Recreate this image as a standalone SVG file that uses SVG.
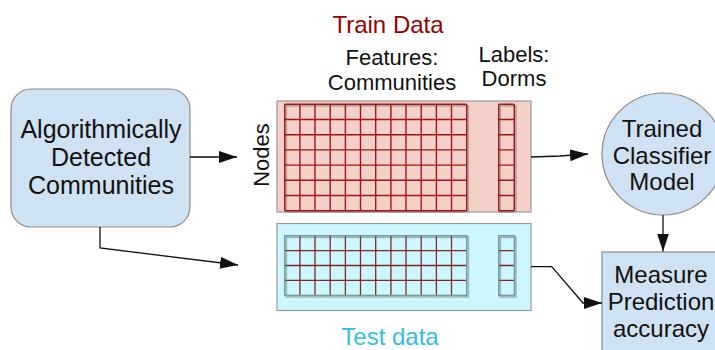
<svg xmlns="http://www.w3.org/2000/svg" width="715" height="350" viewBox="0 0 715 350">
<style>
text{font-family:"Liberation Sans",Arial,sans-serif;fill:#111;text-anchor:middle}
.node{fill:#cfe2f3;stroke:#8a8a8a;stroke-width:1.2}
.t24{font-size:24px}
.t25{font-size:25px}
.t22{font-size:22px}
.conn{fill:none;stroke:#111;stroke-width:1.3}
.tgrid{fill:none;stroke:#a31515;stroke-width:1.4}
.sgrid{fill:none;stroke:#7d2a2a;stroke-width:1.3}
.shadow{fill:none;stroke:#8c8c8c;stroke-width:2;opacity:0.6}
</style>
<defs>
<marker id="ah" viewBox="0 0 18 12" refX="18" refY="6" markerWidth="18" markerHeight="12" markerUnits="userSpaceOnUse" orient="auto">
<path d="M0,0 L18,6 L0,12 Z" fill="#111"/>
</marker>
</defs>

<g id="title-train"><text x="388" y="33" style="font-size:24px;fill:#960000">Train Data</text></g>
<g id="label-features"><text class="t22" x="392" y="65">Features:</text><text class="t22" x="392" y="90">Communities</text></g>
<g id="label-labels"><text class="t22" x="514" y="62">Labels:</text><text class="t22" x="514" y="86">Dorms</text></g>
<g id="label-nodes"><text x="0" y="0" transform="translate(268.5,155) rotate(-90)" style="font-size:22px">Nodes</text></g>
<g id="title-test"><text x="390" y="345" style="font-size:24px;fill:#36bde0">Test data</text></g>

<g id="communities">
<rect class="node" x="11" y="89" width="179" height="138" rx="20"/>
<text class="t25" x="101" y="138">Algorithmically</text>
<text class="t25" x="101" y="166">Detected</text>
<text class="t25" x="101" y="194">Communities</text>
</g>

<g id="train-data">
<rect x="277" y="101" width="254" height="111" fill="#f5d0c8" stroke="#999" stroke-width="1.2"/>
<rect class="shadow" x="286.2" y="105.8" width="182" height="106"/>
<rect class="shadow" x="500.2" y="105.8" width="15.6" height="106"/>
<path class="tgrid" d="M284.7,104.3V210.7M299.9,104.3V210.7M315,104.3V210.7M330.2,104.3V210.7M345.4,104.3V210.7M360.5,104.3V210.7M375.7,104.3V210.7M390.9,104.3V210.7M406,104.3V210.7M421.2,104.3V210.7M436.4,104.3V210.7M451.5,104.3V210.7M466.7,104.3V210.7
M284.7,104.3H466.7M284.7,119.5H466.7M284.7,134.7H466.7M284.7,149.9H466.7M284.7,165.1H466.7M284.7,180.3H466.7M284.7,195.5H466.7M284.7,210.7H466.7"/>
<path class="tgrid" d="M498.7,104.3V210.7M514.3,104.3V210.7M498.7,104.3H514.3M498.7,119.5H514.3M498.7,134.7H514.3M498.7,149.9H514.3M498.7,165.1H514.3M498.7,180.3H514.3M498.7,195.5H514.3M498.7,210.7H514.3"/>
</g>

<g id="test-data">
<rect x="277" y="223.5" width="254" height="87" fill="#ccf7ff" stroke="#999" stroke-width="1.2"/>
<rect class="shadow" x="286.2" y="237.2" width="182" height="59.6"/>
<rect class="shadow" x="500.2" y="237.2" width="15.6" height="59.6"/>
<path class="sgrid" d="M299.9,235.7V295.3M315,235.7V295.3M330.2,235.7V295.3M345.4,235.7V295.3M360.5,235.7V295.3M375.7,235.7V295.3M390.9,235.7V295.3M406,235.7V295.3M421.2,235.7V295.3M436.4,235.7V295.3M451.5,235.7V295.3
M284.7,250.6H466.7M284.7,265.5H466.7M284.7,280.4H466.7M498.7,250.6H514.3M498.7,265.5H514.3M498.7,280.4H514.3"/>
<rect x="284.7" y="235.7" width="182" height="59.6" fill="none" stroke="#6f9aa0" stroke-width="1.3"/>
<rect x="498.7" y="235.7" width="15.6" height="59.6" fill="none" stroke="#6f9aa0" stroke-width="1.3"/>
</g>

<g id="classifier">
<circle class="node" cx="663" cy="154" r="61"/>
<text class="t24" x="662" y="137">Trained</text>
<text class="t24" x="662" y="164">Classifier</text>
<text class="t24" x="662" y="190">Model</text>
</g>

<g id="measure">
<rect class="node" x="602" y="252" width="130" height="110"/>
<text class="t24" x="661" y="283">Measure</text>
<text class="t24" x="661" y="310">Prediction</text>
<text class="t24" x="661" y="337">accuracy</text>
</g>

<g id="connectors">
<path class="conn" d="M190,157H237" marker-end="url(#ah)"/>
<path class="conn" d="M100,227V248L238,265" marker-end="url(#ah)"/>
<path class="conn" d="M531,157L560,156L588,154" marker-end="url(#ah)"/>
<path class="conn" d="M663,215V251.5" marker-end="url(#ah)"/>
<path class="conn" d="M531,266.7H551.7L583,303H602" marker-end="url(#ah)"/>
</g>
</svg>
